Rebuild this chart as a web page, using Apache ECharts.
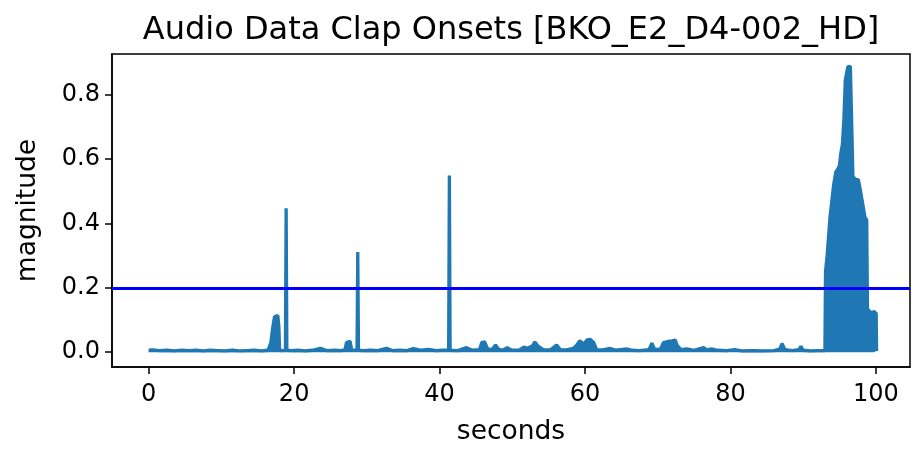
<!DOCTYPE html>
<html>
<head>
<meta charset="utf-8">
<script src="https://cdn.jsdelivr.net/npm/echarts@6/dist/echarts.min.js"></script>
<style>
  html, body { margin: 0; padding: 0; background: #fff; }
  #main { width: 912px; height: 451px; }
</style>
</head>
<body>
<div id="main"></div>
<script>
// onset envelope (seconds / magnitude)
var seconds = [
  0, 0.5, 1.5, 2.5, 3.5, 4.5, 5.5, 6.5, 7.5, 8.5, 9.5, 10.5, 11.5, 12.5, 13.5, 14.5, 15.5, 16.4,
  16.6, 16.8, 17.05, 17.3, 17.5, 17.75, 17.9, 18.0, 18.5, 18.8, 18.9, 19.0, 19.6, 20.5, 21.5, 22.5,
  23.6, 24.5, 25.5, 26.5, 27.0, 27.2, 27.4, 27.7, 27.9, 28.3, 28.65, 28.75, 28.85, 29.5, 30.5, 31.5,
  32.7, 33.5, 34.5, 35.5, 36.4, 37.5, 38.5, 39.5, 40.5, 41.25, 41.35, 41.45, 42.5, 43.7, 44.5, 45.5,
  45.8, 46.2, 46.6, 47.2, 47.7, 48.1, 48.7, 49.3, 49.9, 51.0, 51.6, 52.1, 52.8, 53.1, 53.5, 54.3,
  55.3, 56.1, 56.6, 57.5, 58.4, 58.8, 59.3, 59.8, 60.3, 60.7, 61.2, 61.6, 62.5, 63.4, 64.3, 65.7,
  66.5, 67.5, 68.8, 69.2, 69.6, 70.4, 70.8, 71.5, 72.0, 72.4, 72.7, 73.2, 74.0, 75.0, 76.3, 76.8,
  77.4, 78.2, 79.5, 80.6, 81.5, 83.0, 84.5, 86.0, 86.8, 87.1, 87.5, 88.5, 89.4, 89.7, 90.0, 91.0,
  92.0, 93.0,
  93.08, 93.3, 93.5, 93.7, 93.95, 94.2, 94.5, 94.8, 95.0, 95.2, 95.4, 95.6, 95.8, 96.0, 96.15, 96.5,
  96.75, 96.85, 97.2, 97.6, 97.9, 98.2, 98.5, 98.75, 98.85, 99.1, 99.3, 99.5, 99.7, 99.9, 100.05, 100.1
];
var magnitude = [
  0.006, 0.007, 0.005, 0.006, 0.004, 0.006, 0.005, 0.006, 0.004, 0.006, 0.005, 0.004, 0.006, 0.004, 0.005, 0.006, 0.004, 0.006,
  0.01, 0.03, 0.075, 0.11, 0.116, 0.114, 0.08, 0.006, 0.005, 0.006, 0.447, 0.006, 0.005, 0.006, 0.004, 0.006,
  0.012, 0.005, 0.006, 0.005, 0.008, 0.03, 0.036, 0.034, 0.008, 0.006, 0.006, 0.311, 0.006, 0.005, 0.006, 0.005,
  0.012, 0.005, 0.006, 0.005, 0.011, 0.006, 0.009, 0.005, 0.006, 0.006, 0.549, 0.006, 0.005, 0.014, 0.006, 0.008,
  0.03, 0.032, 0.01, 0.008, 0.022, 0.01, 0.006, 0.014, 0.006, 0.007, 0.016, 0.012, 0.02, 0.032, 0.02, 0.007,
  0.008, 0.022, 0.008, 0.007, 0.012, 0.02, 0.036, 0.025, 0.038, 0.04, 0.03, 0.008, 0.007, 0.012, 0.006, 0.01,
  0.006, 0.005, 0.008, 0.028, 0.008, 0.01, 0.03, 0.034, 0.035, 0.038, 0.02, 0.008, 0.01, 0.006, 0.014, 0.007,
  0.01, 0.006, 0.005, 0.008, 0.004, 0.005, 0.004, 0.005, 0.01, 0.027, 0.008, 0.005, 0.008, 0.018, 0.006, 0.004,
  0.005, 0.005,
  0.25, 0.30, 0.36, 0.42, 0.47, 0.52, 0.56, 0.57, 0.58, 0.62, 0.645, 0.72, 0.845, 0.85, 0.886, 0.888,
  0.885, 0.545, 0.537, 0.535, 0.50, 0.46, 0.42, 0.41, 0.135, 0.128, 0.125, 0.12, 0.127, 0.128, 0.12, 0.004
];
var threshold = 0.2;
var xTicks = [0, 20, 40, 60, 80, 100];
var yTicks = [0, 0.2, 0.4, 0.6, 0.8];

var myChart = echarts.init(document.getElementById('main'));

var points = seconds.map(function (t, i) {
    return [t, magnitude[i]];
});

var font = 'DejaVu Sans';

option = {
    backgroundColor: '#fff',
    animation: false,
    textStyle: { fontFamily: font },
    title: {
        text: 'Audio Data Clap Onsets [BKO_E2_D4-002_HD]',
        left: 506,
        top: 10,
        textAlign: 'center',
        textStyle: { fontFamily: font, fontSize: 32, fontWeight: 'normal', color: '#000' }
    },
    grid: {
        left: 112,
        right: 2,
        top: 54,
        bottom: 81,
        show: true,
        borderColor: '#000',
        borderWidth: 1.5,
        backgroundColor: '#fff'
    },
    xAxis: {
        type: 'value',
        min: -5.05,
        max: 104.7,
        name: 'seconds',
        nameLocation: 'middle',
        nameGap: 52,
        nameTextStyle: { fontFamily: font, fontSize: 26.5, color: '#000' },
        axisLine: { show: true, onZero: false, lineStyle: { color: '#000', width: 1.5 } },
        axisTick: { show: true, length: 7, lineStyle: { color: '#000', width: 1.5 }, customValues: xTicks },
        axisLabel: { fontFamily: font, fontSize: 24, color: '#000', margin: 16, customValues: xTicks },
        splitLine: { show: false }
    },
    yAxis: {
        type: 'value',
        min: -0.046,
        max: 0.926,
        name: 'magnitude',
        nameLocation: 'middle',
        nameRotate: 90,
        nameGap: 70,
        nameTextStyle: { fontFamily: font, fontSize: 26.5, color: '#000' },
        axisLine: { show: true, onZero: false, lineStyle: { color: '#000', width: 1.5 } },
        axisTick: { show: true, length: 7, lineStyle: { color: '#000', width: 1.5 }, customValues: yTicks },
        axisLabel: {
            fontFamily: font, fontSize: 24, color: '#000', margin: 12, customValues: yTicks,
            formatter: function (v) { return v.toFixed(1); }
        },
        splitLine: { show: false }
    },
    series: [
        {
            name: 'onsets',
            type: 'line',
            data: points,
            showSymbol: false,
            symbol: 'none',
            lineStyle: { color: '#1f77b4', width: 3.3 },
            areaStyle: { color: '#1f77b4', opacity: 1, origin: 'auto' },
            z: 2
        },
        {
            name: 'threshold',
            type: 'line',
            data: [],
            z: 5,
            markLine: {
                silent: true,
                symbol: 'none',
                label: { show: false },
                lineStyle: { color: '#0000ff', width: 3, type: 'solid' },
                data: [{ yAxis: threshold }]
            }
        }
    ]
};

myChart.setOption(option);
</script>
</body>
</html>
